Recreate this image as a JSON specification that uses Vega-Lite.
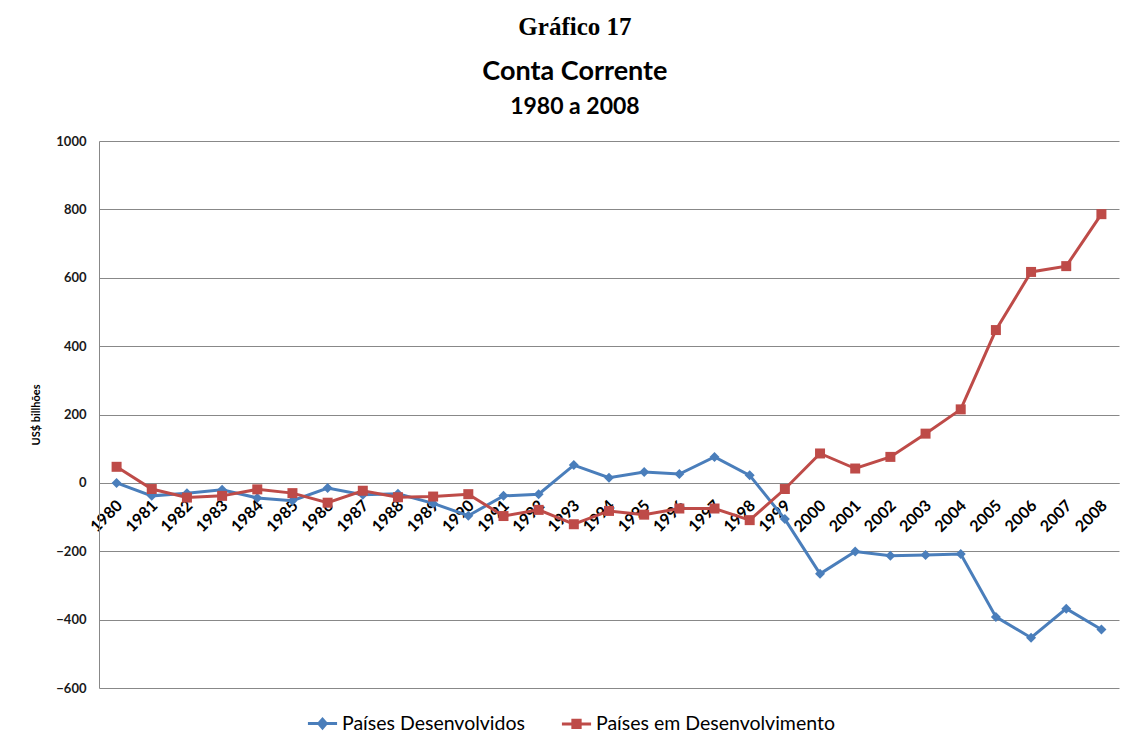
{
  "$schema": "https://vega.github.io/schema/vega-lite/v6.json",
  "background": "white",
  "padding": {"left": 30, "top": 15, "right": 5, "bottom": 5},
  "config": {"view": {"stroke": null}},
  "title": {"text": "Gráfico 17", "font": "Liberation Serif", "fontSize": 25, "fontWeight": "bold", "color": "black", "anchor": "middle", "offset": 18},
  "vconcat": [
    {
      "width": 1020,
      "height": 547,
      "title": {"text": "Conta Corrente", "subtitle": "1980 a 2008", "font": "Lato", "fontSize": 27, "fontWeight": "bold", "color": "black", "subtitleFont": "Lato", "subtitleFontSize": 23, "subtitleFontWeight": "bold", "subtitleColor": "black", "subtitlePadding": 10, "frame": "bounds", "anchor": "middle", "offset": 15},
      "data": {"values": [
        {"ano": "1980", "serie": "Países Desenvolvidos", "valor": 0},
        {"ano": "1981", "serie": "Países Desenvolvidos", "valor": -38},
        {"ano": "1982", "serie": "Países Desenvolvidos", "valor": -30},
        {"ano": "1983", "serie": "Países Desenvolvidos", "valor": -20},
        {"ano": "1984", "serie": "Países Desenvolvidos", "valor": -44},
        {"ano": "1985", "serie": "Países Desenvolvidos", "valor": -52},
        {"ano": "1986", "serie": "Países Desenvolvidos", "valor": -15},
        {"ano": "1987", "serie": "Países Desenvolvidos", "valor": -35},
        {"ano": "1988", "serie": "Países Desenvolvidos", "valor": -32},
        {"ano": "1989", "serie": "Países Desenvolvidos", "valor": -60},
        {"ano": "1990", "serie": "Países Desenvolvidos", "valor": -96},
        {"ano": "1991", "serie": "Países Desenvolvidos", "valor": -38},
        {"ano": "1992", "serie": "Países Desenvolvidos", "valor": -33},
        {"ano": "1993", "serie": "Países Desenvolvidos", "valor": 52},
        {"ano": "1994", "serie": "Países Desenvolvidos", "valor": 15},
        {"ano": "1995", "serie": "Países Desenvolvidos", "valor": 32},
        {"ano": "1996", "serie": "Países Desenvolvidos", "valor": 26},
        {"ano": "1997", "serie": "Países Desenvolvidos", "valor": 76},
        {"ano": "1998", "serie": "Países Desenvolvidos", "valor": 22},
        {"ano": "1999", "serie": "Países Desenvolvidos", "valor": -106},
        {"ano": "2000", "serie": "Países Desenvolvidos", "valor": -266},
        {"ano": "2001", "serie": "Países Desenvolvidos", "valor": -201},
        {"ano": "2002", "serie": "Países Desenvolvidos", "valor": -213},
        {"ano": "2003", "serie": "Países Desenvolvidos", "valor": -211},
        {"ano": "2004", "serie": "Países Desenvolvidos", "valor": -208},
        {"ano": "2005", "serie": "Países Desenvolvidos", "valor": -392},
        {"ano": "2006", "serie": "Países Desenvolvidos", "valor": -453},
        {"ano": "2007", "serie": "Países Desenvolvidos", "valor": -368},
        {"ano": "2008", "serie": "Países Desenvolvidos", "valor": -429},
        {"ano": "1980", "serie": "Países em Desenvolvimento", "valor": 47},
        {"ano": "1981", "serie": "Países em Desenvolvimento", "valor": -18},
        {"ano": "1982", "serie": "Países em Desenvolvimento", "valor": -43},
        {"ano": "1983", "serie": "Países em Desenvolvimento", "valor": -38},
        {"ano": "1984", "serie": "Países em Desenvolvimento", "valor": -19},
        {"ano": "1985", "serie": "Países em Desenvolvimento", "valor": -30},
        {"ano": "1986", "serie": "Países em Desenvolvimento", "valor": -58},
        {"ano": "1987", "serie": "Países em Desenvolvimento", "valor": -23},
        {"ano": "1988", "serie": "Países em Desenvolvimento", "valor": -42},
        {"ano": "1989", "serie": "Países em Desenvolvimento", "valor": -40},
        {"ano": "1990", "serie": "Países em Desenvolvimento", "valor": -33},
        {"ano": "1991", "serie": "Países em Desenvolvimento", "valor": -97},
        {"ano": "1992", "serie": "Países em Desenvolvimento", "valor": -79},
        {"ano": "1993", "serie": "Países em Desenvolvimento", "valor": -121},
        {"ano": "1994", "serie": "Países em Desenvolvimento", "valor": -82},
        {"ano": "1995", "serie": "Países em Desenvolvimento", "valor": -93},
        {"ano": "1996", "serie": "Países em Desenvolvimento", "valor": -75},
        {"ano": "1997", "serie": "Países em Desenvolvimento", "valor": -75},
        {"ano": "1998", "serie": "Países em Desenvolvimento", "valor": -109},
        {"ano": "1999", "serie": "Países em Desenvolvimento", "valor": -18},
        {"ano": "2000", "serie": "Países em Desenvolvimento", "valor": 86},
        {"ano": "2001", "serie": "Países em Desenvolvimento", "valor": 42},
        {"ano": "2002", "serie": "Países em Desenvolvimento", "valor": 76},
        {"ano": "2003", "serie": "Países em Desenvolvimento", "valor": 144},
        {"ano": "2004", "serie": "Países em Desenvolvimento", "valor": 215},
        {"ano": "2005", "serie": "Países em Desenvolvimento", "valor": 447},
        {"ano": "2006", "serie": "Países em Desenvolvimento", "valor": 617},
        {"ano": "2007", "serie": "Países em Desenvolvimento", "valor": 634},
        {"ano": "2008", "serie": "Países em Desenvolvimento", "valor": 786}
      ]},
      "encoding": {
        "x": {"field": "ano", "type": "ordinal", "sort": null,
          "axis": {"title": null, "labelAngle": -45, "labelFont": "Lato", "labelFontSize": 16, "labelFontWeight": "bold", "labelColor": "black", "ticks": false, "domainColor": "#888888", "offset": -205, "labelPadding": 14, "labelOffset": -3, "grid": false, "labelOverlap": false, "zindex": 0}},
        "y": {"field": "valor", "type": "quantitative", "scale": {"domain": [-600, 1000], "nice": false, "zero": false},
          "axis": {"title": "US$ billhões", "titleFont": "Lato", "titleFontSize": 11, "titleFontWeight": "bold", "titleColor": "black", "values": [-600, -400, -200, 0, 200, 400, 600, 800, 1000], "format": "d", "labelFont": "Lato", "labelFontSize": 13, "labelFontWeight": "bold", "labelColor": "#1a1a1a", "ticks": false, "domainColor": "#888888", "gridColor": "#888888", "gridOpacity": 1, "labelPadding": 13, "titlePadding": 14}},
        "color": {"field": "serie", "type": "nominal",
          "scale": {"domain": ["Países Desenvolvidos", "Países em Desenvolvimento"], "range": ["#4A7EBB", "#BE4B48"]},
          "legend": {"title": null, "orient": "none", "legendX": 207, "legendY": 566, "direction": "horizontal", "labelFont": "Lato", "labelFontSize": 19.5, "labelColor": "black", "labelLimit": 400, "symbolSize": 850, "symbolStrokeWidth": 3, "columnPadding": 30, "labelOffset": 3,
            "encode": {"symbols": {"update": {
              "shape": {"signal": "datum.value === 'Países Desenvolvidos' ? 'M-1,0H1M0,-0.3L0.26,0L0,0.3L-0.26,0Z' : 'M-1,0H1M-0.25,-0.25H0.25V0.25H-0.25Z'"},
              "fill": {"signal": "datum.value === 'Países Desenvolvidos' ? '#4A7EBB' : '#BE4B48'"},
              "stroke": {"signal": "datum.value === 'Países Desenvolvidos' ? '#4A7EBB' : '#BE4B48'"},
              "opacity": {"value": 1}}}}}}
      },
      "layer": [
        {"mark": {"type": "line", "strokeWidth": 3}},
        {"transform": [{"filter": "datum.serie === 'Países Desenvolvidos'"}],
          "mark": {"type": "point", "filled": true, "opacity": 1, "size": 100, "shape": "diamond"}},
        {"transform": [{"filter": "datum.serie === 'Países em Desenvolvimento'"}],
          "mark": {"type": "point", "filled": true, "opacity": 1, "size": 100, "shape": "square"}}
      ]
    }
  ]
}
